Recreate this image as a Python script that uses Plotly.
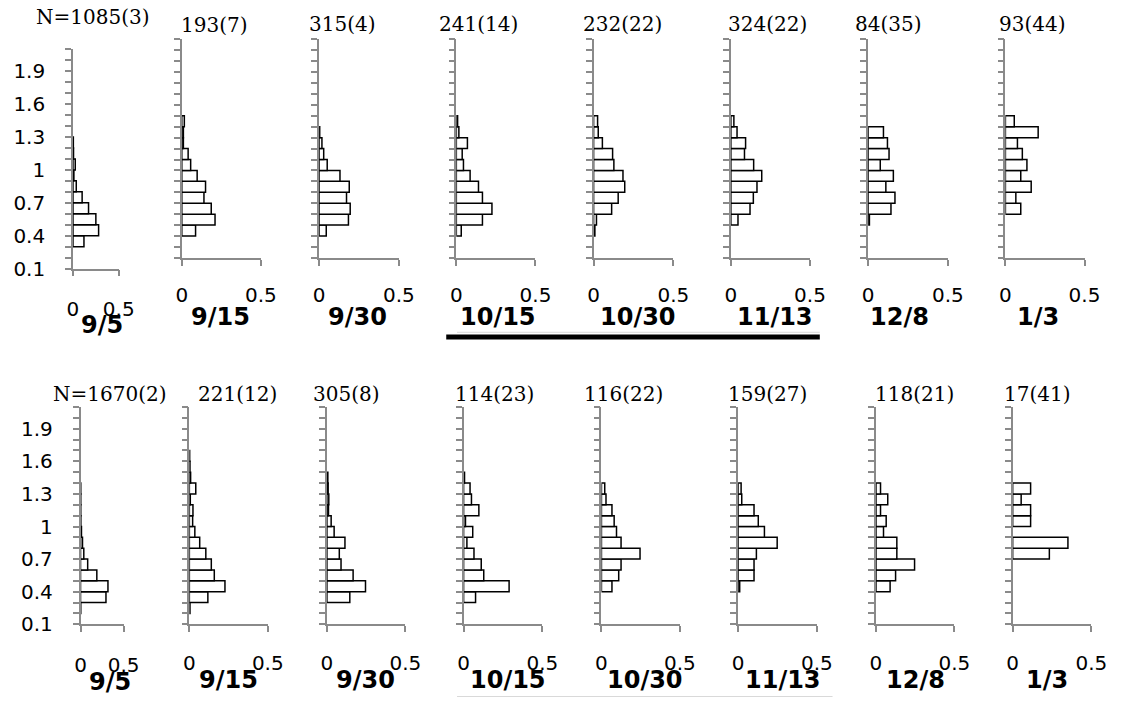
import plotly.graph_objects as go

# ---------------- data ----------------
BIN_LO = [0.1, 0.2, 0.3, 0.4, 0.5, 0.6, 0.7, 0.8, 0.9, 1.0,
          1.1, 1.2, 1.3, 1.4, 1.5, 1.6, 1.7, 1.8, 1.9, 2.0]

Y_TICK_TEXT = {0.1: "0.1", 0.4: "0.4", 0.7: "0.7", 1.0: "1", 1.3: "1.3", 1.6: "1.6", 1.9: "1.9"}
X_TICK_VALS = [0, 0.5]
X_TICK_TEXT = ["0", "0.5"]

DATES = ["9/5", "9/15", "9/30", "10/15", "10/30", "11/13", "12/8", "1/3"]
TOP_N = ["N=1085(3)", "193(7)", "315(4)", "241(14)", "232(22)", "324(22)", "84(35)", "93(44)"]
BOT_N = ["N=1670(2)", "221(12)", "305(8)", "114(23)", "116(22)", "159(27)", "118(21)", "17(41)"]

_ = None
# top row (one value per 0.1-wide bin, from 0.1 upward)
T_0905 = [_, _, 0.12, 0.28, 0.25, 0.17, 0.10, 0.036, 0.01, 0.025, 0.006, 0.004, _, _, _, _, _, _, _, _]
T_0915 = [_, _, 0.087, 0.21, 0.186, 0.14, 0.15, 0.097, 0.056, 0.04, 0.01, 0.01, 0.016, _, _, _, _, _, _, _]
T_0930 = [_, _, 0.045, 0.184, 0.195, 0.172, 0.189, 0.131, 0.051, 0.029, 0.018, 0.004, _, _, _, _, _, _, _, _]
T_1015 = [_, _, 0.031, 0.165, 0.225, 0.165, 0.14, 0.087, 0.045, 0.037, 0.07, 0.016, 0.008, _, _, _, _, _, _, _]
T_1030 = [_, _, 0.008, 0.018, 0.113, 0.154, 0.195, 0.184, 0.127, 0.119, 0.055, 0.029, 0.025, _, _, _, _, _, _, _]
T_1113 = [_, _, _, 0.045, 0.121, 0.142, 0.165, 0.195, 0.144, 0.086, 0.093, 0.039, 0.019, _, _, _, _, _, _, _]
T_1208 = [_, _, _, 0.008, 0.143, 0.168, 0.111, 0.158, 0.076, 0.131, 0.121, 0.096, _, _, _, _, _, _, _, _]
T_0103 = [_, _, _, _, 0.097, 0.066, 0.163, 0.097, 0.136, 0.107, 0.076, 0.207, 0.056, _, _, _, _, _, _, _]

# bottom row
B_0905 = [_, 0.003, 0.295, 0.318, 0.189, 0.083, 0.038, 0.023, 0.011, 0.004, 0.003, 0.003, 0.003, _, _, _, _, _, _, _]
B_0915 = [_, 0.004, 0.118, 0.227, 0.159, 0.14, 0.105, 0.066, 0.035, 0.021, 0.023, 0.006, 0.041, 0.008, 0.004, 0.002, _, _, _, _]
B_0930 = [_, _, 0.146, 0.246, 0.167, 0.09, 0.079, 0.115, 0.046, 0.027, 0.01, 0.012, 0.008, 0.006, _, _, _, _, _, _]
B_1015 = [_, _, 0.076, 0.289, 0.128, 0.112, 0.066, 0.021, 0.058, 0.012, 0.097, 0.05, 0.041, 0.006, _, _, _, _, _, _]
B_1030 = [_, _, _, 0.067, 0.11, 0.125, 0.246, 0.125, 0.096, 0.081, 0.067, 0.029, 0.021, _, _, _, _, _, _, _]
B_1113 = [_, _, _, 0.01, 0.101, 0.101, 0.116, 0.248, 0.167, 0.128, 0.101, 0.023, 0.019, _, _, _, _, _, _, _]
B_1208 = [_, _, _, 0.09, 0.125, 0.246, 0.133, 0.133, 0.048, 0.065, 0.029, 0.075, 0.029, _, _, _, _, _, _, _]
B_0103 = [_, _, _, _, _, _, 0.233, 0.351, _, 0.114, 0.114, 0.054, 0.114, _, _, _, _, _, _, _]

TOP_ROW = [T_0905, T_0915, T_0930, T_1015, T_1030, T_1113, T_1208, T_0103]
BOT_ROW = [B_0905, B_0915, B_0930, B_1015, B_1030, B_1113, B_1208, B_0103]

# ---------------- layout (pixels) ----------------
W, H = 1127, 710
TOP_X0 = [68.3, 179.3, 319.3, 459.3, 599.3, 739.3, 879.3, 1019.3]
TOP_X1 = [115.0, 260.0, 400.7, 540.0, 680.7, 820.0, 960.7, 1100.0]
TOP_YT = [50.0, 40.0, 40.0, 40.0, 40.0, 40.0, 40.0, 40.0]
TOP_YB = [273.3, 262.3, 262.3, 262.3, 262.3, 262.3, 262.3, 262.3]
BOT_X0 = [76.0, 187.0, 327.3, 466.7, 607.3, 746.7, 887.3, 1026.7]
BOT_X1 = [120.0, 267.0, 407.3, 547.0, 687.3, 827.0, 967.3, 1107.0]
BOT_YT = [414.0] * 8
BOT_YB = [635.0] * 8

TOP_TITLE_X = [89, 213, 343, 482, 629, 777, 900, 1047]
TOP_TITLE_Y = [17, 25, 24, 24, 24, 24, 24, 24]
BOT_TITLE_X = [106, 236, 347, 498, 630, 777, 927, 1052]
BOT_TITLE_Y = [401] * 8
TOP_DATE_X = [98, 219, 359, 502, 645, 784, 911, 1053]
TOP_DATE_Y = [331, 322, 322, 322, 322, 322, 322, 322]
BOT_DATE_X = [106, 227, 367, 512, 652, 792, 928, 1062]
BOT_DATE_Y = [694, 692, 692, 692, 692, 692, 692, 692]

AXIS_GRAY = "#8a8a8a"
Y_EDGES = [round(0.1 * k, 1) for k in range(1, 22)]


def px(x):
    return x / W


def py(y):
    return 1 - y / H


fig = go.Figure()
annotations = []
idx = 0
rows = [
    (TOP_ROW, TOP_X0, TOP_X1, TOP_YT, TOP_YB, TOP_N, TOP_TITLE_X, TOP_TITLE_Y, TOP_DATE_X, TOP_DATE_Y),
    (BOT_ROW, BOT_X0, BOT_X1, BOT_YT, BOT_YB, BOT_N, BOT_TITLE_X, BOT_TITLE_Y, BOT_DATE_X, BOT_DATE_Y),
]
for r, (vals_row, x0s, x1s, yts, ybs, titles, tx, ty, dx, dy) in enumerate(rows):
    for i in range(8):
        idx += 1
        xa = "xaxis" if idx == 1 else f"xaxis{idx}"
        ya = "yaxis" if idx == 1 else f"yaxis{idx}"
        xr = "x" if idx == 1 else f"x{idx}"
        yr = "y" if idx == 1 else f"y{idx}"
        fig.add_trace(go.Bar(
            x=vals_row[i], y=BIN_LO, orientation="h",
            width=0.1, offset=0,
            marker=dict(color="white", line=dict(color="black", width=1.5)),
            xaxis=xr, yaxis=yr, showlegend=False, hoverinfo="x+y",
        ))
        first = (i == 0)
        if r == 0:
            xstand = 12 if not first else 16
        else:
            xstand = 14 if not first else 16
        fig.layout[xa] = dict(
            domain=[px(x0s[i]), px(x1s[i])], anchor=yr, range=[0, 0.5],
            showgrid=False, zeroline=False, showline=True, linecolor=AXIS_GRAY, linewidth=1.5,
            ticks="outside", ticklen=6, tickwidth=1.5, tickcolor=AXIS_GRAY,
            tickmode="array", tickvals=X_TICK_VALS, ticktext=X_TICK_TEXT,
            tickfont=dict(family="DejaVu Sans", size=20, color="black"),
            ticklabelstandoff=xstand,
            fixedrange=True,
        )
        fig.layout[ya] = dict(
            domain=[py(ybs[i]), py(yts[i])], anchor=xr, range=[0.1, 2.1],
            showgrid=False, zeroline=False, showline=True, linecolor=AXIS_GRAY, linewidth=1.5,
            ticks="outside", ticklen=6, tickwidth=1.5, tickcolor=AXIS_GRAY,
            tickmode="array", tickvals=Y_EDGES,
            ticktext=[Y_TICK_TEXT.get(v, "") for v in Y_EDGES],
            showticklabels=first,
            tickfont=dict(family="DejaVu Sans", size=20, color="black"),
            ticklabelstandoff=16,
            fixedrange=True,
        )
        annotations.append(dict(
            x=px(tx[i]), y=py(ty[i]), xref="paper", yref="paper", text=titles[i],
            showarrow=False, xanchor="center", yanchor="middle",
            font=dict(family="DejaVu Serif", size=20, color="black"),
        ))
        annotations.append(dict(
            x=px(dx[i]), y=py(dy[i]), xref="paper", yref="paper", text=f"<b>{DATES[i]}</b>",
            showarrow=False, xanchor="center", yanchor="middle",
            font=dict(family="DejaVu Sans", size=24, color="black"),
        ))

shapes = [
    dict(type="line", xref="paper", yref="paper", x0=px(460), x1=px(830), y0=py(338), y1=py(338),
         line=dict(color="#d9d9d9", width=1)),
    dict(type="line", xref="paper", yref="paper", x0=px(449), x1=px(830), y0=py(342.7), y1=py(342.7),
         line=dict(color="black", width=5)),
    dict(type="line", xref="paper", yref="paper", x0=px(460), x1=px(843), y0=py(708.5), y1=py(708.5),
         line=dict(color="#d9d9d9", width=1)),
]

fig.update_layout(
    width=W, height=H,
    margin=dict(l=0, r=0, t=0, b=0),
    paper_bgcolor="white", plot_bgcolor="white",
    annotations=annotations, shapes=shapes,
    showlegend=False,
)

PAGE_JS = (
    "var gd=document.getElementById('{plot_id}');"
    "gd.style.position='absolute';gd.style.left='0px';gd.style.top='0px';"
    "document.documentElement.style.margin='0';document.body.style.margin='0';"
    "document.documentElement.style.overflow='hidden';document.body.style.overflow='hidden';"
    "document.documentElement.style.width='1127px';document.documentElement.style.height='710px';"
    "document.body.style.width='1127px';document.body.style.height='710px';"
)

fig.write_html(
    "out.html",
    config={"displayModeBar": False},
    post_script=PAGE_JS,
)
